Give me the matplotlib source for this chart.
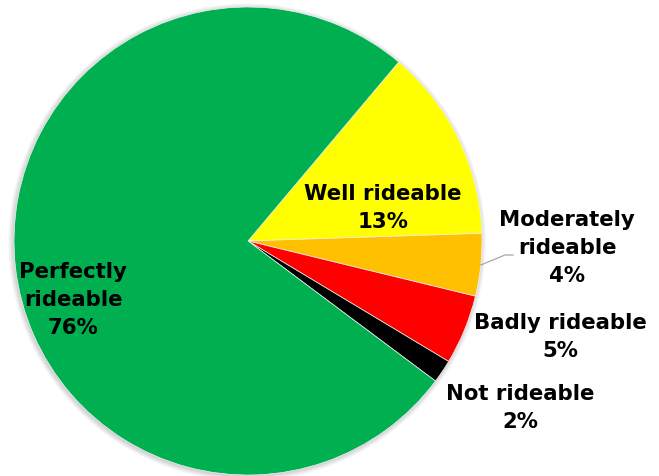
import matplotlib
matplotlib.use("Agg")
import matplotlib.pyplot as plt
from matplotlib.patches import Circle
import numpy as np

categories = ["Well rideable", "Moderately\nrideable", "Badly rideable", "Not rideable", "Perfectly\nrideable"]
values = [13.3, 4.3, 4.8, 1.6, 75.7]
pct_labels = ["13%", "4%", "5%", "2%", "76%"]
colors = ["#FFFF00", "#FFC000", "#FF0000", "#000000", "#00B050"]

W, H = 659, 477
R_PX = 234.0
CX, CY = 248.0, 242.0
START = 49.9


def px(x, y):
    return (x - CX) / R_PX, (CY - y) / R_PX


fig = plt.figure(figsize=(W / 100, H / 100), dpi=100)
ax = fig.add_axes([0, 0, 1, 1])

# soft shadow
for k in range(6):
    ax.add_patch(Circle((-0.004, -0.005), 1.0 + 0.004 * k, color="black", alpha=0.03, lw=0, zorder=0))

ax.pie(values, colors=colors, startangle=START, counterclock=False, radius=1,
       center=(0, 0), frame=True,
       wedgeprops=dict(edgecolor="#f2f2f2", linewidth=0.5))
ax.set_xlim(-CX / R_PX, (W - CX) / R_PX)
ax.set_ylim(-(H - CY) / R_PX, CY / R_PX)
ax.set_aspect("equal")
ax.axis("off")

label_px = [(383, 208), (567, 248), (560, 337), (520, 408), (73, 300)]
font = dict(family="DejaVu Sans", weight="bold", size=15.3)
for cat, pct, p in zip(categories, pct_labels, label_px):
    x, y = px(*p)
    ax.text(x, y, cat + "\n" + pct, ha="center", va="center", linespacing=1.5, **font)

# leader line for Moderately rideable
mid = np.deg2rad(START - (values[0] + values[1] / 2) / sum(values) * 360)
p1 = px(505, 256)
p2 = px(513, 256)
ax.plot([np.cos(mid), p1[0], p2[0]], [np.sin(mid), p1[1], p2[1]], color="#a6a6a6", lw=0.9)

fig.savefig("out.png", dpi=100)
